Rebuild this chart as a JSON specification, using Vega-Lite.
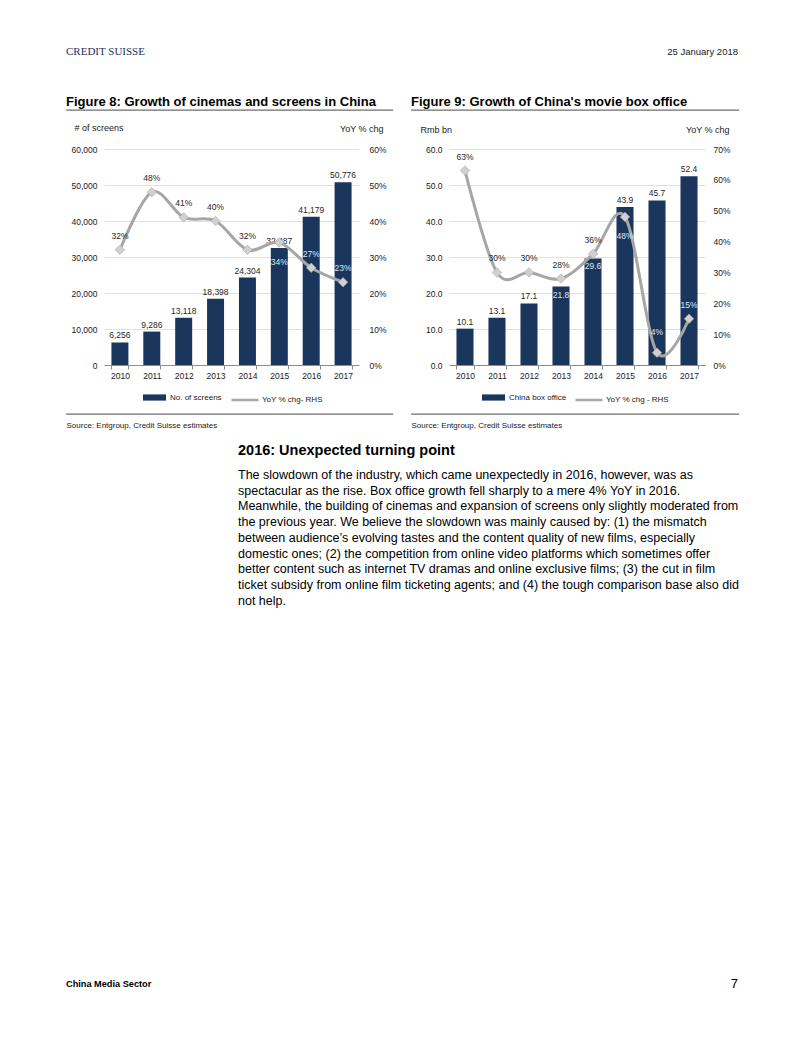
{
  "$schema": "https://vega.github.io/schema/vega-lite/v6.json",
  "background": "white",
  "padding": {"left": 65, "top": 42, "right": 65, "bottom": 44},
  "config": {
    "font": "Liberation Sans",
    "view": {"stroke": null},
    "axis": {"labelFontSize": 8.5, "labelColor": "#1a1a1a", "titleFontSize": 9, "titleFontWeight": "normal", "titleColor": "#1a1a1a"},
    "legend": {"labelFontSize": 8, "labelColor": "#1a1a1a"},
    "title": {"color": "#000000"}
  },
  "spacing": 365,
  "vconcat": [
    {
      "spacing": 12,
      "vconcat": [
        {
          "spacing": 33,
          "vconcat": [
            {
              "width": 672,
              "height": 20,
              "data": {"values": [{"k": 1}]},
              "layer": [
                {
                  "mark": {"type": "text", "align": "left", "baseline": "middle", "font": "Liberation Serif", "fontSize": 11, "color": "#1d2f5c"},
                  "encoding": {
                    "x": {"datum": 0, "type": "quantitative", "scale": {"domain": [0, 1]}, "axis": null},
                    "text": {"value": "CREDIT SUISSE"}
                  }
                },
                {
                  "mark": {"type": "text", "align": "right", "baseline": "middle", "fontSize": 9.5, "color": "#1a1a1a"},
                  "encoding": {
                    "x": {"datum": 1, "type": "quantitative"},
                    "text": {"value": "25 January 2018"}
                  }
                }
              ]
            },
            {
              "spacing": 16,
              "resolve": {"scale": {"fill": "independent", "stroke": "independent"}},
              "hconcat": [
                {
                  "width": 327,
                  "height": 304,
                  "view": {"stroke": "#6e6e6e", "strokeWidth": 1.4, "strokeDash": [327, 304]},
                  "title": {"text": "Figure 8: Growth of cinemas and screens in China", "anchor": "start", "frame": "group", "fontSize": 13, "fontWeight": "bold", "offset": 1},
                  "data": {"values": [
                    {"year": 2010, "screens": 6256, "yoy": 0.32},
                    {"year": 2011, "screens": 9286, "yoy": 0.48},
                    {"year": 2012, "screens": 13118, "yoy": 0.41},
                    {"year": 2013, "screens": 18398, "yoy": 0.40},
                    {"year": 2014, "screens": 24304, "yoy": 0.32},
                    {"year": 2015, "screens": 32487, "yoy": 0.34},
                    {"year": 2016, "screens": 41179, "yoy": 0.27},
                    {"year": 2017, "screens": 50776, "yoy": 0.23}
                  ]},
                  "layer": [
                    {
                      "layer": [
                        {
                          "mark": {"type": "bar"},
                          "encoding": {
                            "x": {"field": "year", "type": "ordinal",
                              "scale": {"range": [38, 293], "paddingInner": 0.467, "paddingOuter": 0.233},
                              "axis": {"orient": "bottom", "offset": -49, "domainColor": "#8c8c8c", "tickColor": "#8c8c8c", "tickSize": 4, "tickBand": "extent", "labelAngle": 0, "labelPadding": 2,
                                "title": "Source: Entgroup, Credit Suisse estimates", "titleX": 0, "titleY": 60, "titleAlign": "left", "titleBaseline": "middle", "titleFontSize": 8}},
                            "y": {"field": "screens", "type": "quantitative",
                              "scale": {"domain": [0, 60000], "range": [255, 39], "nice": false},
                              "axis": {"orient": "left", "offset": -38, "domain": false, "ticks": false, "grid": true, "gridColor": "#d9d9d9", "gridWidth": 0.8, "labelPadding": 7, "format": ",d",
                                "values": [0, 10000, 20000, 30000, 40000, 50000, 60000],
                                "title": "# of screens", "titleAngle": 0, "titleAlign": "left", "titleBaseline": "middle", "titleX": -30, "titleY": 17}},
                            "fill": {"datum": "No. of screens", "type": "nominal", "scale": {"range": ["#1b365d"]},
                              "legend": {"orient": "none", "legendX": 76, "legendY": 275, "title": null, "symbolType": "M-1,-0.27H1V0.27H-1Z", "symbolSize": 529, "labelOffset": 3}}
                          }
                        },
                        {
                          "mark": {"type": "text", "baseline": "bottom", "dy": -2, "fontSize": 8.5, "color": "#262626"},
                          "encoding": {
                            "x": {"field": "year", "type": "ordinal"},
                            "y": {"field": "screens", "type": "quantitative"},
                            "text": {"field": "screens", "type": "quantitative", "format": ",d"}
                          }
                        }
                      ]
                    },
                    {
                      "layer": [
                        {
                          "mark": {"type": "line", "interpolate": "cardinal", "strokeWidth": 3},
                          "encoding": {
                            "x": {"field": "year", "type": "ordinal"},
                            "y": {"field": "yoy", "type": "quantitative",
                              "scale": {"domain": [0, 0.6], "range": [255, 39], "nice": false},
                              "axis": {"orient": "right", "offset": -34, "domain": false, "ticks": false, "grid": false, "labelPadding": 10, "format": ".0%",
                                "values": [0, 0.1, 0.2, 0.3, 0.4, 0.5, 0.6],
                                "title": "YoY % chg", "titleAngle": 0, "titleAlign": "right", "titleBaseline": "middle", "titleX": 24, "titleY": 18}},
                            "stroke": {"datum": "YoY % chg- RHS", "type": "nominal", "scale": {"range": ["#a6a6a6"]},
                              "legend": {"orient": "none", "legendX": 164, "legendY": 275, "title": null, "symbolType": "stroke", "symbolSize": 729, "symbolStrokeWidth": 2.5, "labelOffset": 2}}
                          }
                        },
                        {
                          "mark": {"type": "point", "shape": "diamond", "filled": true, "size": 90, "fill": "#d0d0d0", "stroke": "#a8a8a8", "strokeWidth": 0.6, "opacity": 1},
                          "encoding": {
                            "x": {"field": "year", "type": "ordinal"},
                            "y": {"field": "yoy", "type": "quantitative"}
                          }
                        },
                        {
                          "transform": [{"filter": "datum.year != 2015"}],
                          "mark": {"type": "text", "baseline": "bottom", "dy": -9, "fontSize": 8.5},
                          "encoding": {
                            "x": {"field": "year", "type": "ordinal"},
                            "y": {"field": "yoy", "type": "quantitative"},
                            "text": {"field": "yoy", "type": "quantitative", "format": ".0%"},
                            "color": {"condition": {"test": "datum.year >= 2015", "value": "#dfe6f0"}, "value": "#262626"}
                          }
                        },
                        {
                          "transform": [{"filter": "datum.year == 2015"}],
                          "mark": {"type": "text", "baseline": "top", "dy": 15, "fontSize": 8.5, "color": "#dfe6f0"},
                          "encoding": {
                            "x": {"field": "year", "type": "ordinal"},
                            "y": {"field": "yoy", "type": "quantitative"},
                            "text": {"field": "yoy", "type": "quantitative", "format": ".0%"}
                          }
                        }
                      ]
                    }
                  ],
                  "resolve": {"scale": {"y": "independent"}}
                },
                {
                  "width": 328,
                  "height": 304,
                  "view": {"stroke": "#6e6e6e", "strokeWidth": 1.4, "strokeDash": [328, 304]},
                  "title": {"text": "Figure 9: Growth of China's movie box office", "anchor": "start", "frame": "group", "fontSize": 13, "fontWeight": "bold", "offset": 1},
                  "data": {"values": [
                    {"year": 2010, "box": 10.1, "yoy": 0.63},
                    {"year": 2011, "box": 13.1, "yoy": 0.30},
                    {"year": 2012, "box": 17.1, "yoy": 0.30},
                    {"year": 2013, "box": 21.8, "yoy": 0.28},
                    {"year": 2014, "box": 29.6, "yoy": 0.36},
                    {"year": 2015, "box": 43.9, "yoy": 0.48},
                    {"year": 2016, "box": 45.7, "yoy": 0.04},
                    {"year": 2017, "box": 52.4, "yoy": 0.15}
                  ]},
                  "layer": [
                    {
                      "layer": [
                        {
                          "mark": {"type": "bar"},
                          "encoding": {
                            "x": {"field": "year", "type": "ordinal",
                              "scale": {"range": [38, 294], "paddingInner": 0.467, "paddingOuter": 0.233},
                              "axis": {"orient": "bottom", "offset": -49, "domainColor": "#8c8c8c", "tickColor": "#8c8c8c", "tickSize": 4, "tickBand": "extent", "labelAngle": 0, "labelPadding": 2,
                                "title": "Source: Entgroup, Credit Suisse estimates", "titleX": 0, "titleY": 60, "titleAlign": "left", "titleBaseline": "middle", "titleFontSize": 8}},
                            "y": {"field": "box", "type": "quantitative",
                              "scale": {"domain": [0, 60], "range": [255, 39], "nice": false},
                              "axis": {"orient": "left", "offset": -38, "domain": false, "ticks": false, "grid": true, "gridColor": "#d9d9d9", "gridWidth": 0.8, "labelPadding": 7, "format": ".1f",
                                "values": [0, 10, 20, 30, 40, 50, 60],
                                "title": "Rmb bn", "titleAngle": 0, "titleAlign": "left", "titleBaseline": "middle", "titleX": -29, "titleY": 19}},
                            "fill": {"datum": "China box office", "type": "nominal", "scale": {"range": ["#1b365d"]},
                              "legend": {"orient": "none", "legendX": 70, "legendY": 275, "title": null, "symbolType": "M-1,-0.27H1V0.27H-1Z", "symbolSize": 529, "labelOffset": 3}}
                          }
                        },
                        {
                          "transform": [{"filter": "datum.year != 2013 && datum.year != 2014"}],
                          "mark": {"type": "text", "baseline": "bottom", "dy": -2, "fontSize": 8.5, "color": "#262626"},
                          "encoding": {
                            "x": {"field": "year", "type": "ordinal"},
                            "y": {"field": "box", "type": "quantitative"},
                            "text": {"field": "box", "type": "quantitative", "format": ".1f"}
                          }
                        },
                        {
                          "transform": [{"filter": "datum.year == 2013 || datum.year == 2014"}],
                          "mark": {"type": "text", "baseline": "top", "dy": 4, "fontSize": 8.5, "color": "#dfe6f0"},
                          "encoding": {
                            "x": {"field": "year", "type": "ordinal"},
                            "y": {"field": "box", "type": "quantitative"},
                            "text": {"field": "box", "type": "quantitative", "format": ".1f"}
                          }
                        }
                      ]
                    },
                    {
                      "layer": [
                        {
                          "mark": {"type": "line", "interpolate": "cardinal", "strokeWidth": 3},
                          "encoding": {
                            "x": {"field": "year", "type": "ordinal"},
                            "y": {"field": "yoy", "type": "quantitative",
                              "scale": {"domain": [0, 0.7], "range": [255, 39], "nice": false},
                              "axis": {"orient": "right", "offset": -34, "domain": false, "ticks": false, "grid": false, "labelPadding": 8, "format": ".0%",
                                "values": [0, 0.1, 0.2, 0.3, 0.4, 0.5, 0.6, 0.7],
                                "title": "YoY % chg", "titleAngle": 0, "titleAlign": "right", "titleBaseline": "middle", "titleX": 24, "titleY": 19}},
                            "stroke": {"datum": "YoY % chg - RHS", "type": "nominal", "scale": {"range": ["#a6a6a6"]},
                              "legend": {"orient": "none", "legendX": 163, "legendY": 275, "title": null, "symbolType": "stroke", "symbolSize": 729, "symbolStrokeWidth": 2.5, "labelOffset": 2}}
                          }
                        },
                        {
                          "mark": {"type": "point", "shape": "diamond", "filled": true, "size": 90, "fill": "#d0d0d0", "stroke": "#a8a8a8", "strokeWidth": 0.6, "opacity": 1},
                          "encoding": {
                            "x": {"field": "year", "type": "ordinal"},
                            "y": {"field": "yoy", "type": "quantitative"}
                          }
                        },
                        {
                          "transform": [{"filter": "datum.year != 2015 && datum.year != 2016"}],
                          "mark": {"type": "text", "baseline": "bottom", "dy": -9, "fontSize": 8.5},
                          "encoding": {
                            "x": {"field": "year", "type": "ordinal"},
                            "y": {"field": "yoy", "type": "quantitative"},
                            "text": {"field": "yoy", "type": "quantitative", "format": ".0%"},
                            "color": {"condition": {"test": "datum.year >= 2015", "value": "#dfe6f0"}, "value": "#262626"}
                          }
                        },
                        {
                          "transform": [{"filter": "datum.year == 2016"}],
                          "mark": {"type": "text", "baseline": "bottom", "dy": -16, "fontSize": 8.5, "color": "#dfe6f0"},
                          "encoding": {
                            "x": {"field": "year", "type": "ordinal"},
                            "y": {"field": "yoy", "type": "quantitative"},
                            "text": {"field": "yoy", "type": "quantitative", "format": ".0%"}
                          }
                        },
                        {
                          "transform": [{"filter": "datum.year == 2015"}],
                          "mark": {"type": "text", "baseline": "top", "dy": 15, "fontSize": 8.5, "color": "#dfe6f0"},
                          "encoding": {
                            "x": {"field": "year", "type": "ordinal"},
                            "y": {"field": "yoy", "type": "quantitative"},
                            "text": {"field": "yoy", "type": "quantitative", "format": ".0%"}
                          }
                        }
                      ]
                    }
                  ],
                  "resolve": {"scale": {"y": "independent"}}
                }
              ]
            }
          ]
        },
        {
          "spacing": 12,
          "hconcat": [
            {
              "width": 160,
              "height": 10,
              "data": {"values": []},
              "mark": "point",
              "encoding": {}
            },
            {
              "width": 500,
              "height": 141.75,
              "title": {"text": "2016: Unexpected turning point", "anchor": "start", "frame": "group", "fontSize": 14.5, "fontWeight": "bold", "offset": 9},
              "data": {"values": [
                {"line": 1, "text": "The slowdown of the industry, which came unexpectedly in 2016, however, was as"},
                {"line": 2, "text": "spectacular as the rise. Box office growth fell sharply to a mere 4% YoY in 2016."},
                {"line": 3, "text": "Meanwhile, the building of cinemas and expansion of screens only slightly moderated from"},
                {"line": 4, "text": "the previous year. We believe the slowdown was mainly caused by: (1) the mismatch"},
                {"line": 5, "text": "between audience’s evolving tastes and the content quality of new films, especially"},
                {"line": 6, "text": "domestic ones; (2) the competition from online video platforms which sometimes offer"},
                {"line": 7, "text": "better content such as internet TV dramas and online exclusive films; (3) the cut in film"},
                {"line": 8, "text": "ticket subsidy from online film ticketing agents; and (4) the tough comparison base also did"},
                {"line": 9, "text": "not help."}
              ]},
              "mark": {"type": "text", "align": "left", "baseline": "middle", "fontSize": 12.5, "color": "#000000"},
              "encoding": {
                "x": {"datum": 0, "type": "quantitative", "scale": {"domain": [0, 1]}, "axis": null},
                "y": {"field": "line", "type": "ordinal", "axis": null, "scale": {"paddingInner": 0, "paddingOuter": 0}},
                "text": {"field": "text", "type": "nominal"}
              }
            }
          ]
        }
      ]
    },
    {
      "width": 672,
      "height": 20,
      "data": {"values": [{"k": 1}]},
      "layer": [
        {
          "mark": {"type": "text", "align": "left", "baseline": "middle", "fontSize": 9.2, "fontWeight": "bold", "color": "#000000"},
          "encoding": {
            "x": {"datum": 0, "type": "quantitative", "scale": {"domain": [0, 1]}, "axis": null},
            "text": {"value": "China Media Sector"}
          }
        },
        {
          "mark": {"type": "text", "align": "right", "baseline": "middle", "fontSize": 13, "color": "#000000"},
          "encoding": {
            "x": {"datum": 1, "type": "quantitative"},
            "text": {"value": "7"}
          }
        }
      ]
    }
  ]
}
